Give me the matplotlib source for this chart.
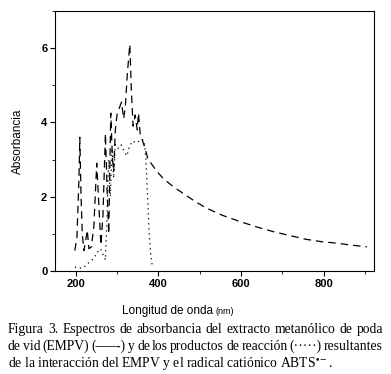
import matplotlib.pyplot as plt
from matplotlib.ticker import MultipleLocator

# ---------------------------------------------------------------------------- #
# DATA

# EMPV spectrum (dashed)
empv_nm = [198, 203, 208, 210, 213, 216, 220, 224, 228, 232, 238, 244, 251,
           256, 261, 266, 272, 276, 280, 285, 289, 292, 296, 300, 306, 311,
           316, 320, 325, 331, 335, 339, 344, 349, 352, 356, 362, 368, 374,
           380, 395, 412, 435, 460, 488, 517, 555, 598, 640, 678, 720, 759,
           795, 831, 865, 905]
empv_abs = [0.55, 0.9, 2.5, 3.6, 2.0, 1.0, 0.55, 0.8, 1.1, 0.6, 0.65, 1.2,
            2.9, 1.8, 0.7, 1.5, 3.7, 2.2, 1.0, 4.25, 3.0, 2.7, 3.8, 4.2,
            4.4, 4.55, 4.1, 4.4, 5.3, 6.1, 4.8, 3.9, 4.2, 3.8, 4.25, 3.7,
            3.5, 3.3, 3.05, 2.94, 2.7, 2.49, 2.28, 2.09, 1.88, 1.69, 1.5,
            1.33, 1.18, 1.06, 0.95, 0.85, 0.79, 0.75, 0.70, 0.65]

# reaction products (dotted)
prod_nm = [198, 205, 212, 220, 228, 236, 244, 252, 260, 266, 272, 276, 280,
           284, 288, 292, 296, 302, 310, 318, 324, 330, 338, 346, 354, 360,
           366, 370, 374, 378, 382, 386]
prod_abs = [0.1, 0.1, 0.08, 0.1, 0.2, 0.25, 0.35, 0.5, 0.6, 0.45, 0.3, 1.5,
            3.0, 2.0, 3.3, 2.5, 3.4, 3.3, 3.4, 3.2, 3.1, 3.35, 3.5, 3.45,
            3.5, 3.55, 3.5, 3.0, 2.0, 1.0, 0.4, 0.1]

caption = [
    "Figura 3. Espectros de absorbancia del extracto metanólico de poda",
    "de vid (EMPV) (–––-) y de los productos de reacción (·····) resultantes",
    r"de la interacción del EMPV y el radical catiónico ABTS$^{\bullet-}$.",
]

# ---------------------------------------------------------------------------- #
# PLOT

plt.rcParams['font.family'] = ['Liberation Sans', 'DejaVu Sans']
plt.rcParams['mathtext.fontset'] = 'stix'

fig = plt.figure(figsize=(3.91, 3.74), dpi=100)
ax = fig.add_axes([0.1407, 0.2754, 0.8158, 0.6952])

ax.plot(empv_nm, empv_abs, color='black', lw=0.9, dashes=(6, 4))
ax.plot(prod_nm, prod_abs, color='black', lw=0.9, dashes=(1, 3))

ax.set_xlim(150, 922)
ax.set_ylim(0, 7)
ax.xaxis.set_major_locator(MultipleLocator(200))
ax.xaxis.set_minor_locator(MultipleLocator(100))
ax.yaxis.set_major_locator(MultipleLocator(2))
ax.yaxis.set_minor_locator(MultipleLocator(1))
ax.tick_params(which='both', direction='out', labelsize=8, pad=2)
ax.tick_params(which='major', length=3.5)
ax.tick_params(which='minor', length=2)
for lab in ax.get_xticklabels() + ax.get_yticklabels():
    lab.set_fontweight('bold')
for sp in ax.spines.values():
    sp.set_linewidth(0.8)

ax.set_ylabel('Absorbancia', fontsize=8.5, labelpad=12)
fig.text(0.545, 0.168, 'Longitud de onda', fontsize=8.5, ha='right', va='center')
fig.text(0.550, 0.166, '(nm)', fontsize=6.5, ha='left', va='center')

# caption in serif, first two lines justified word by word
renderer = fig.canvas.get_renderer()
x0, x1 = 8, 383
W, H = fig.bbox.width, fig.bbox.height
for i, line in enumerate(caption):
    y = 0.120 - i * 0.0455
    if i == len(caption) - 1:
        fig.text(x0 / W, y, line, fontsize=9.8, family='Liberation Serif',
                 ha='left', va='center')
        continue
    words = line.split(' ')
    texts = [fig.text(0, y, w, fontsize=9.8, family='Liberation Serif',
                      ha='left', va='center') for w in words]
    widths = [t.get_window_extent(renderer).width for t in texts]
    gap = (x1 - x0 - sum(widths)) / (len(words) - 1)
    xp = x0
    for t, w in zip(texts, widths):
        t.set_x(xp / W)
        xp += w + gap

fig.savefig('out.png', dpi=100)
